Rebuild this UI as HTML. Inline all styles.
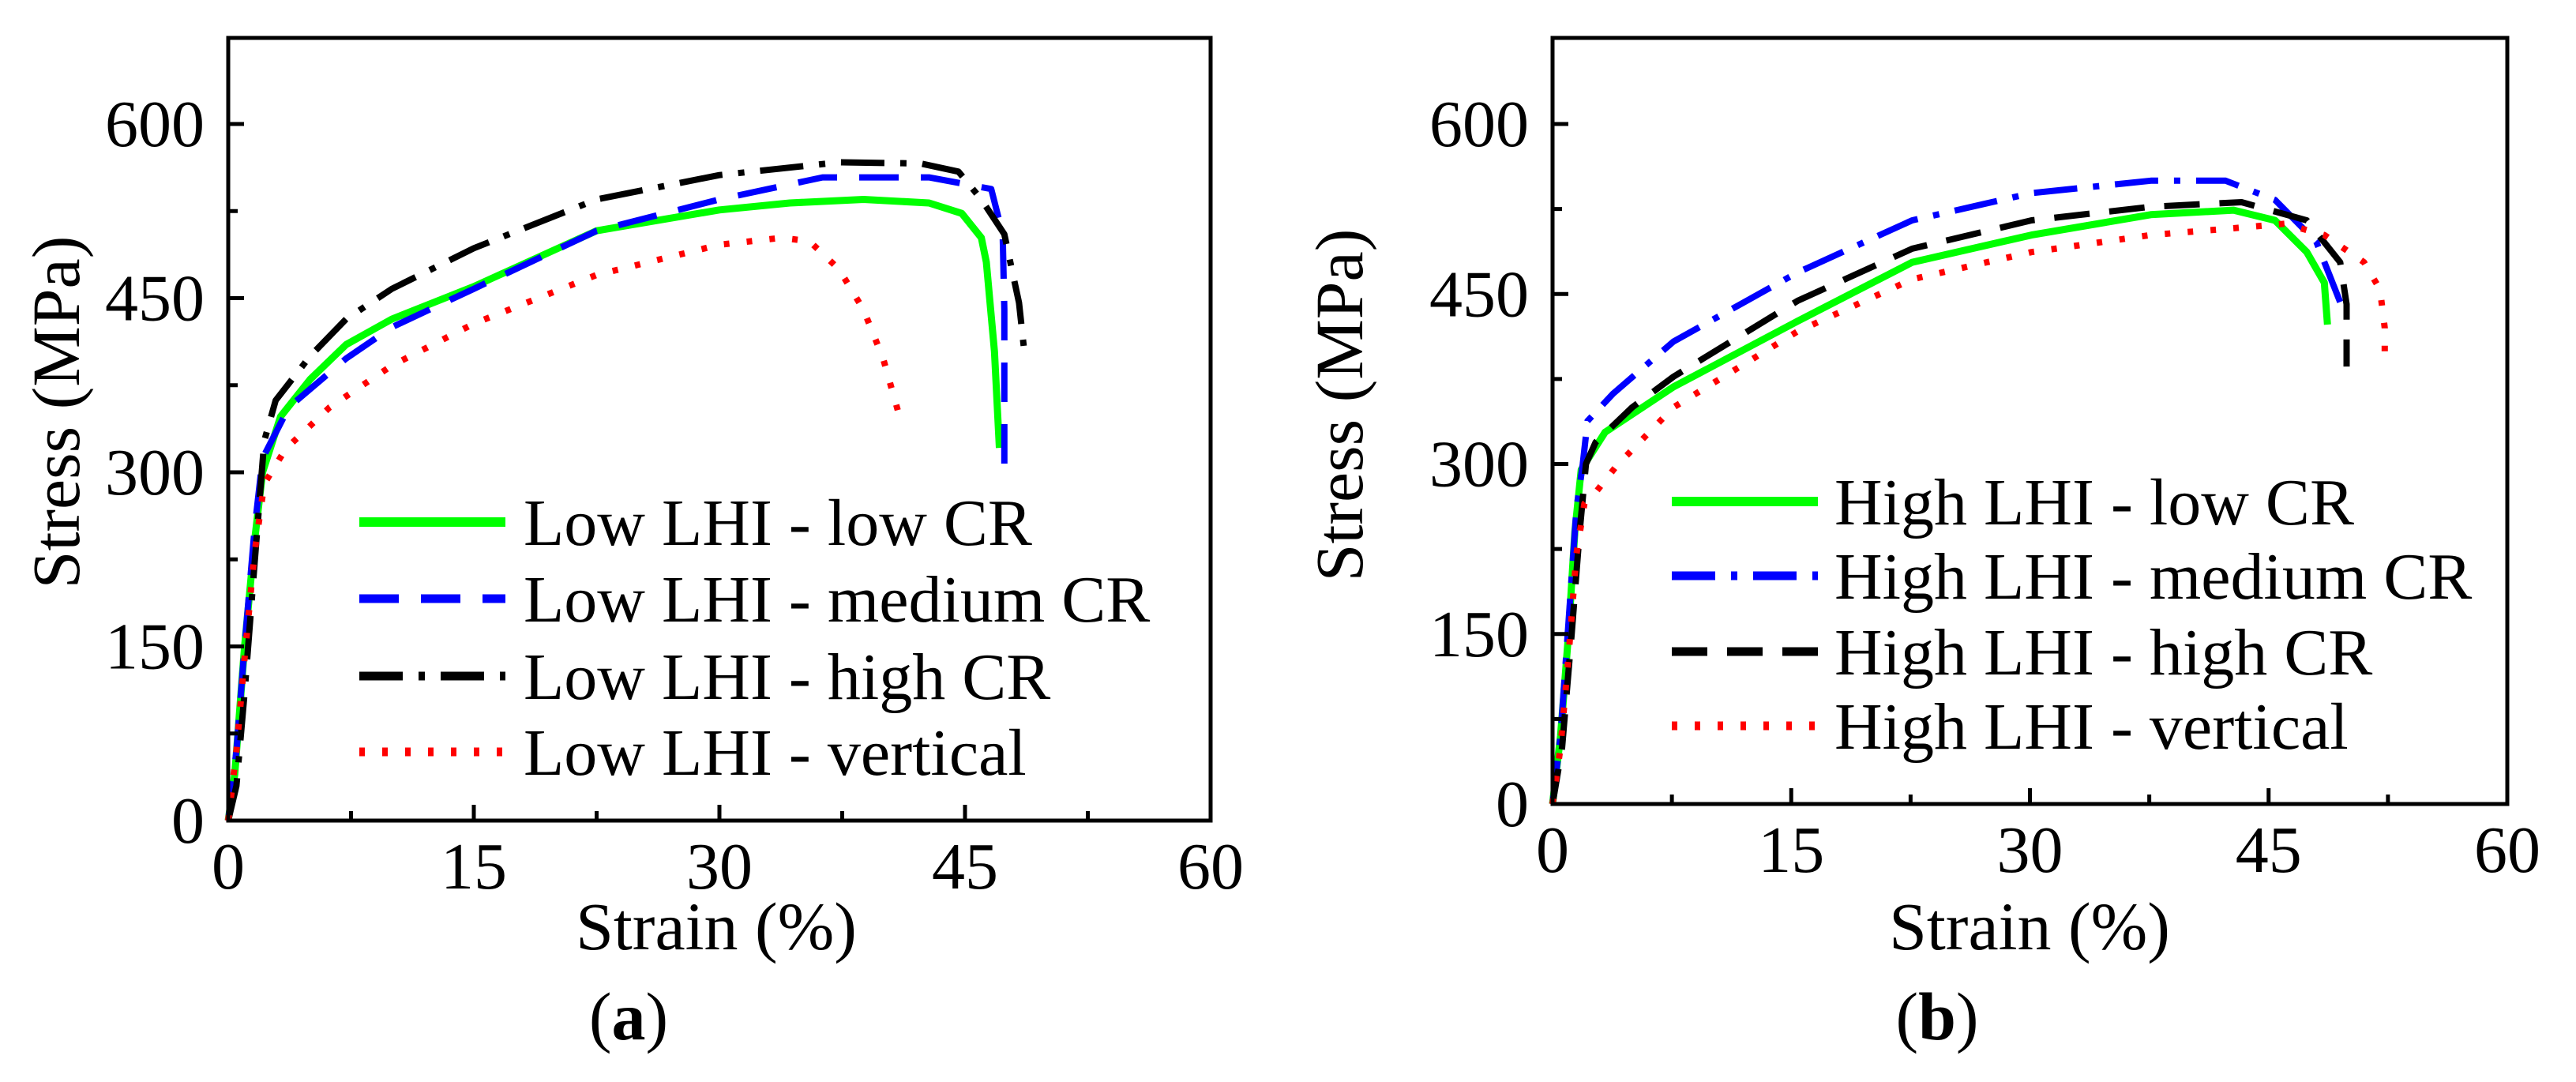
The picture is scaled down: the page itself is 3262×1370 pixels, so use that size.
<!DOCTYPE html>
<html><head><meta charset="utf-8">
<style>
html,body{margin:0;padding:0;background:#fff;}
svg{display:block;font-family:"Liberation Serif","Times New Roman",serif;}
</style></head>
<body>
<svg id="fig" width="3262" height="1370" viewBox="0 0 3262 1370" xmlns="http://www.w3.org/2000/svg"></svg>
<script>
const xTicks = [0, 15, 30, 45, 60];
const yTicks = [0, 150, 300, 450, 600];

// Panel (a) series [strain %, stress MPa]
const aLowCR = [[0,0],[0.4,40],[1.0,150],[1.6,240],[2.1,300],[3.2,348],[5,380],[7.2,410],[10,432],[15,460],[22.5,508],[30,526],[34.3,532],[38.8,535],[42.8,532],[44.8,523],[46,502],[46.3,481],[46.8,404],[47.1,321]];
const aMedCR = [[0,0],[0.5,60],[1.0,150],[1.6,250],[2.1,312],[3.7,356],[7.2,398],[10,425],[15,458],[22.5,508],[30,535],[36.3,554],[42.8,554],[46.6,544],[47.3,505],[47.4,440],[47.4,300]];
const aHighCR = [[0,0],[0.5,30],[1.0,110],[1.6,220],[2.2,327],[2.9,362],[5,400],[7.2,432],[10,458],[15,493],[22.5,535],[30,556],[37.3,567],[42.3,566],[44.6,559],[46,535],[47.4,505],[48.3,446],[48.6,407]];
const aVertical = [[0,0],[0.5,60],[1.0,140],[1.6,230],[2.2,290],[3.5,320],[6.2,356],[10,392],[15,428],[22.5,470],[30,496],[33.8,502],[35.5,499],[37.3,475],[38.8,440],[40,398],[41,348]];

// Panel (b) series
const bLowCR = [[0,0],[0.5,60],[1.0,150],[1.4,240],[1.8,295],[3.3,328],[7.6,368],[15.4,426],[22.6,478],[30.1,502],[37.6,520],[42.8,524],[45.4,515],[47.4,487],[48.5,460],[48.7,423]];
const bMedCR = [[0,0],[0.5,60],[1.0,160],[1.5,260],[1.9,300],[2.2,338],[3.8,362],[7.6,408],[15.4,469],[22.6,515],[30.1,539],[37.6,550],[42.3,550],[45.4,533],[48,496],[49.8,432]];
const bHighCR = [[0,0],[0.6,50],[1.2,150],[1.7,240],[2.1,300],[2.7,319],[5,350],[7.6,377],[15.4,444],[22.6,490],[30.1,515],[37.6,527],[43.3,531],[47.4,515],[49.5,478],[49.9,441],[49.9,386]];
const bVertical = [[0,0],[0.5,50],[1.0,130],[1.5,220],[2.0,265],[2.6,273],[4,298],[7.6,350],[15.4,417],[22.6,463],[30.1,487],[37.6,502],[42.8,508],[46,512],[48.5,502],[51,478],[52,454],[52.3,420],[52.3,386]];

const aLabels = ["Low LHI - low CR","Low LHI - medium CR","Low LHI - high CR","Low LHI - vertical"];
const bLabels = ["High LHI - low CR","High LHI - medium CR","High LHI - high CR","High LHI - vertical"];

const NS = "http://www.w3.org/2000/svg";
const svg = document.getElementById('fig');
function mk(tag, attrs, parent){
  const e = document.createElementNS(NS, tag);
  for (const k in attrs) e.setAttribute(k, attrs[k]);
  (parent||svg).appendChild(e);
  return e;
}
const styles = {
  green:{stroke:'#00ff00',w:9,dash:''},
  blueDash:{stroke:'#0000ff',w:8,dash:'50 28'},
  blueDashDot:{stroke:'#0000ff',w:8,dash:'55 20 8 20'},
  blackDashDot:{stroke:'#000',w:8,dash:'55 20 8 20'},
  blackDash:{stroke:'#000',w:8,dash:'45 25'},
  redDot:{stroke:'#ff0000',w:8,dash:'7 22'}
};

function panel(cfg){
  const g = mk('g',{});
  
  
  const X = v => cfg.x0 + (v/60)*(cfg.x1-cfg.x0);
  const Y = v => cfg.y0 - (v/600)*(cfg.y0-cfg.y600);
  cfg.series.forEach((s,i)=>{
    const st = styles[s.style];
    const p = mk('polyline',{points:s.data.map(d=>X(d[0]).toFixed(1)+','+Y(d[1]).toFixed(1)).join(' '),
      fill:'none',stroke:st.stroke,'stroke-width':st.w,'stroke-dasharray':st.dash,'stroke-linejoin':'round'},g);
    
    
  });
  const fr = mk('rect',{x:cfg.x0,y:cfg.top,width:cfg.x1-cfg.x0,height:cfg.y0-cfg.top,fill:'none',stroke:'#000','stroke-width':5},g);
  
  
  for (let v=0; v<=60; v+=7.5){
    const major = (v%15===0);
    mk('line',{x1:X(v),x2:X(v),y1:cfg.y0,y2:cfg.y0-(major?20:12),stroke:'#000','stroke-width':5},g);
  }
  xTicks.forEach(v=>{
    const t = mk('text',{x:X(v),y:cfg.y0+86,'font-size':84,'text-anchor':'middle'},g);
    t.textContent = v;
    
    
  });
  for (let v=0; v<=600; v+=75){
    const major = (v%150===0);
    mk('line',{x1:cfg.x0,x2:cfg.x0+(major?20:12),y1:Y(v),y2:Y(v),stroke:'#000','stroke-width':5},g);
  }
  yTicks.forEach(v=>{
    const t = mk('text',{x:cfg.x0-30,y:Y(v)+28,'font-size':84,'text-anchor':'end'},g);
    t.textContent = v;
    
    
  });
  const xt = mk('text',{x:cfg.xtX,y:1202,'font-size':86,'text-anchor':'middle'},g);
  xt.textContent = 'Strain (%)';
  
  
  const yt = mk('text',{x:0,y:0,'font-size':86,'text-anchor':'middle',transform:`translate(${cfg.ytX},${cfg.ytY}) rotate(-90)`},g);
  yt.textContent = 'Stress (MPa)';
  
  
  const cap = mk('text',{x:cfg.capX,y:1316,'font-size':86,'text-anchor':'middle'},g);
  cap.innerHTML = '(<tspan font-weight="bold">'+cfg.cap+'</tspan>)';
  
  
  cfg.series.forEach((s,i)=>{
    const st = styles[s.style];
    const yy = cfg.legY[i];
    const ln = mk('line',{x1:cfg.legX1,x2:cfg.legX2,y1:yy,y2:yy,stroke:st.stroke,'stroke-width':st.w+3,'stroke-dasharray':st.dash},g);
    
    
    const tx = mk('text',{x:cfg.legTX,y:yy+29,'font-size':84},g);
    tx.textContent = cfg.labels[i];
    
    
  });
}

panel({name:'panel-a', x0:289, x1:1533, top:48, y0:1039, y600:157, xtX:907, ytX:100, ytY:522, capX:796, cap:'a',
  legX1:455, legX2:640, legTX:663, legY:[661,758,856,952], labels:aLabels,
  series:[{key:'low-lhi-low-cr',style:'green',data:aLowCR},{key:'low-lhi-medium-cr',style:'blueDash',data:aMedCR},
          {key:'low-lhi-high-cr',style:'blackDashDot',data:aHighCR},{key:'low-lhi-vertical',style:'redDot',data:aVertical}]});
panel({name:'panel-b', x0:1966, x1:3175, top:48, y0:1018, y600:157, xtX:2570, ytX:1725, ytY:513, capX:2453, cap:'b',
  legX1:2117, legX2:2302, legTX:2323, legY:[635,729,825,919], labels:bLabels,
  series:[{key:'high-lhi-low-cr',style:'green',data:bLowCR},{key:'high-lhi-medium-cr',style:'blueDashDot',data:bMedCR},
          {key:'high-lhi-high-cr',style:'blackDash',data:bHighCR},{key:'high-lhi-vertical',style:'redDot',data:bVertical}]});
</script>
</body></html>
